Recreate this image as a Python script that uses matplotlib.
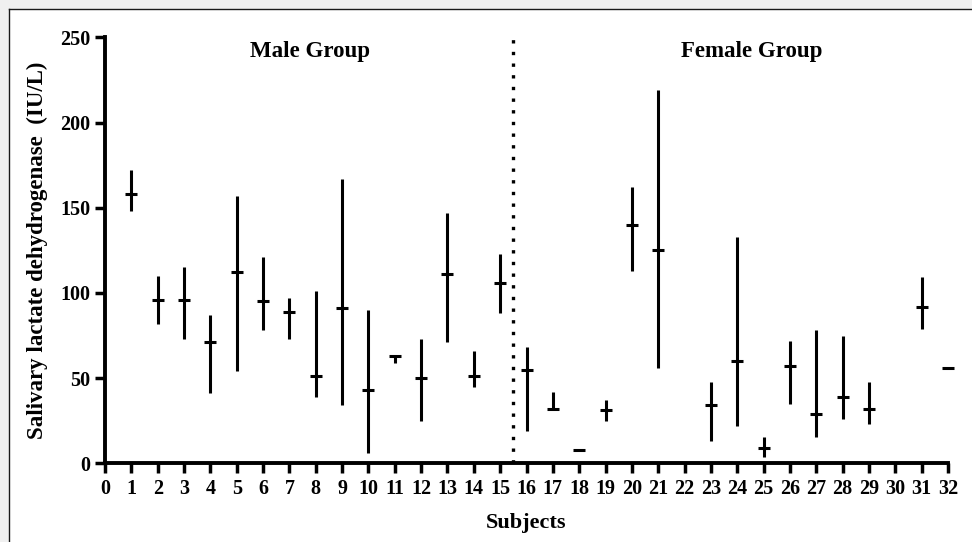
import matplotlib
matplotlib.use("Agg")
import matplotlib.pyplot as plt
from matplotlib.patches import Rectangle
from matplotlib.lines import Line2D

# ---- data ----
subjects = [1, 2, 3, 4, 5, 6, 7, 8, 9, 10, 11, 12, 13, 14, 15,
            16, 17, 18, 19, 20, 21, 23, 24, 25, 26, 27, 28, 29, 31, 32]
median = [158, 96, 96, 71, 112, 95, 89, 51, 91, 43, 63, 50, 111, 51, 106,
          55, 32, 8, 31, 140, 125, 34, 60, 9, 57, 29, 39, 32, 92, 56]
low = [148, 82, 73, 41, 54, 78, 73, 39, 34, 6, 59, 25, 71, 45, 88,
       19, 32, 8, 25, 113, 56, 13, 22, 3.5, 35, 15.5, 26, 23, 79, 56]
high = [172, 110, 115, 87, 157, 121, 97, 101, 167, 90, 63.5, 73, 147, 66, 123,
        68.5, 42, 8, 37, 162, 219, 48, 133, 15.5, 71.5, 78, 75, 47.5, 109.5, 56]
x_ticks = list(range(0, 33))
y_ticks = [0, 50, 100, 150, 200, 250]
divider_x = 15.5
group_labels = ["Male Group", "Female Group"]
group_label_x = [7.8, 24.55]
group_label_y = 241.5

plt.rcParams['font.family'] = ['Liberation Serif', 'DejaVu Serif']
plt.rcParams['font.weight'] = 'bold'

W, H = 972, 542
fig = plt.figure(figsize=(W / 100, H / 100), dpi=100)
fig.patch.set_facecolor('#f0f0f0')
# white page with left/top border
bx, by = 9 / W, 1 - 9 / H
fig.patches.append(Rectangle((bx, 0), 1 - bx, by, transform=fig.transFigure,
                             facecolor='white', edgecolor='none', zorder=-10))
fig.lines.append(Line2D([bx, bx], [0, by], transform=fig.transFigure, color='#1a1a1a', lw=1.0))
fig.lines.append(Line2D([bx, 1], [by, by], transform=fig.transFigure, color='#1a1a1a', lw=1.0))

ax = fig.add_axes([105 / W, 1 - 463.3 / H, (948 - 105) / W, (463.3 - 37.3) / H])
ax.set_facecolor('none')

ax.vlines(subjects, low, high, colors='black', linewidth=2.2, clip_on=False, zorder=3)
ax.plot(subjects, median, linestyle='none', marker='_', markersize=8, markeredgewidth=2.2,
        color='black', clip_on=False, zorder=4)

ax.plot([divider_x, divider_x], [0, 250], color='black', lw=2.4,
        linestyle=(0, (1, 2.5)), dash_capstyle='butt', clip_on=False, zorder=2)

for lab, gx in zip(group_labels, group_label_x):
    ax.text(gx, group_label_y, lab, ha='center', va='center', fontsize=16.5, fontweight='bold')

ax.set_xlim(0, 32)
ax.set_ylim(0, 250)
ax.set_xticks(x_ticks)
ax.set_xticklabels([str(v) for v in x_ticks])
ax.set_yticks(y_ticks)
ax.set_yticklabels([str(v) for v in y_ticks])

for s in ['top', 'right']:
    ax.spines[s].set_visible(False)
for s in ['left', 'bottom']:
    ax.spines[s].set_linewidth(2.8)
    ax.spines[s].set_capstyle('projecting')

ax.tick_params(axis='both', direction='out', length=7.5, width=2.5, labelsize=14.5, color='black')
ax.tick_params(axis='x', pad=4)
ax.tick_params(axis='y', pad=3)
for lbl in ax.get_xticklabels() + ax.get_yticklabels():
    lbl.set_fontweight('bold')

ax.set_xlabel('Subjects', fontsize=16, fontweight='bold', labelpad=10)
ax.set_ylabel('Salivary lactate dehydrogenase  (IU/L)', fontsize=16.5, fontweight='bold', labelpad=9)

fig.savefig('out.png', dpi=100, facecolor=fig.get_facecolor())
